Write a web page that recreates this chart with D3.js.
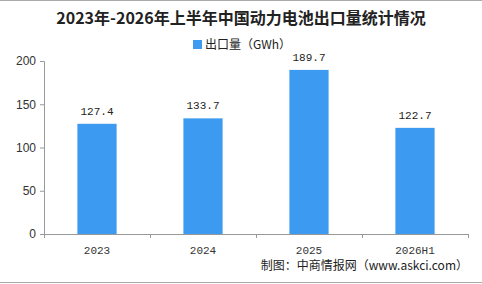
<!DOCTYPE html>
<html><head><meta charset="utf-8">
<script src="https://cdn.jsdelivr.net/npm/d3@7/dist/d3.min.js"></script>
<style>body{margin:0;background:#fff}svg{display:block}</style>
</head><body>
<svg id="c" width="482" height="284"></svg>
<script>
const categories = ["2023", "2024", "2025", "2026H1"];
const values = [127.4, 133.7, 189.7, 122.7];
const yTicks = [0, 50, 100, 150, 200];
const title = "2023年-2026年上半年中国动力电池出口量统计情况";
const seriesName = "出口量（GWh）";
const source = "制图：中商情报网（www.askci.com）";

const svg = d3.select("#c");
const W = 482, H = 284;
const m = {left: 44, right: 14, top: 61, bottom: 50};
const cjk = "'Noto Sans CJK SC', sans-serif";
const mono = "'Liberation Mono', 'Noto Sans CJK SC', monospace";

svg.append("line").attr("x1",0).attr("x2",W).attr("y1",0.5).attr("y2",0.5).attr("stroke","#aaa");
svg.append("line").attr("x1",0).attr("x2",W).attr("y1",282.5).attr("y2",282.5).attr("stroke","#aaa");

const x = d3.scaleBand().domain(categories).range([m.left, W - m.right]).paddingInner(0).paddingOuter(0);
const y = d3.scaleLinear().domain([0, 200]).range([H - m.bottom, m.top]);

svg.append("text").attr("x", 241).attr("y", 24).attr("text-anchor","middle")
  .attr("font-family", cjk).attr("font-weight","bold").attr("font-size", 16).attr("fill","#222").text(title);

svg.append("rect").attr("x",193).attr("y",40).attr("width",9).attr("height",9).attr("fill","#3C9AF0");
svg.append("text").attr("x",205).attr("y",48.5).attr("font-family", cjk).attr("font-size",12).attr("fill","#222").text(seriesName);

// y axis
const ya = svg.append("g").attr("transform",`translate(${m.left},0)`)
  .call(d3.axisLeft(y).tickValues(yTicks).tickSize(4).tickPadding(4));
ya.select(".domain").attr("stroke","#999");
ya.selectAll(".tick line").attr("stroke","#999");
ya.selectAll("text").attr("font-family","'Liberation Sans', Arial, sans-serif").attr("font-size",12).attr("fill","#333");

// x axis
const xa = svg.append("g").attr("transform",`translate(0,${y(0)})`)
  .call(d3.axisBottom(x).tickSize(0).tickPadding(12));
xa.select(".domain").attr("stroke","#999");
xa.selectAll("text").attr("font-family", mono).attr("font-size",11).attr("fill","#333");
const edges = categories.map(c => x(c)).concat([x(categories[categories.length-1]) + x.bandwidth()]);
svg.append("g").selectAll("line").data(edges).join("line")
  .attr("x1", d => d + 0.5).attr("x2", d => d + 0.5).attr("y1", y(0)).attr("y2", y(0) + 4).attr("stroke","#999");

const bw = x.bandwidth() * 0.37;
svg.append("g").selectAll("rect").data(values).join("rect")
  .attr("x", (d,i) => x(categories[i]) + x.bandwidth()/2 - bw/2)
  .attr("y", d => y(d)).attr("width", bw).attr("height", d => y(0) - y(d))
  .attr("fill","#3C9AF0");

svg.append("g").selectAll("text").data(values).join("text")
  .attr("x", (d,i) => x(categories[i]) + x.bandwidth()/2)
  .attr("y", d => y(d) - 9).attr("text-anchor","middle")
  .attr("font-family", mono).attr("font-size",11).attr("fill","#222")
  .text(d => d.toFixed(1));

svg.append("text").attr("x",468).attr("y",270).attr("text-anchor","end")
  .attr("font-family", cjk).attr("font-size",12).attr("fill","#222").text(source);
</script>
</body></html>
